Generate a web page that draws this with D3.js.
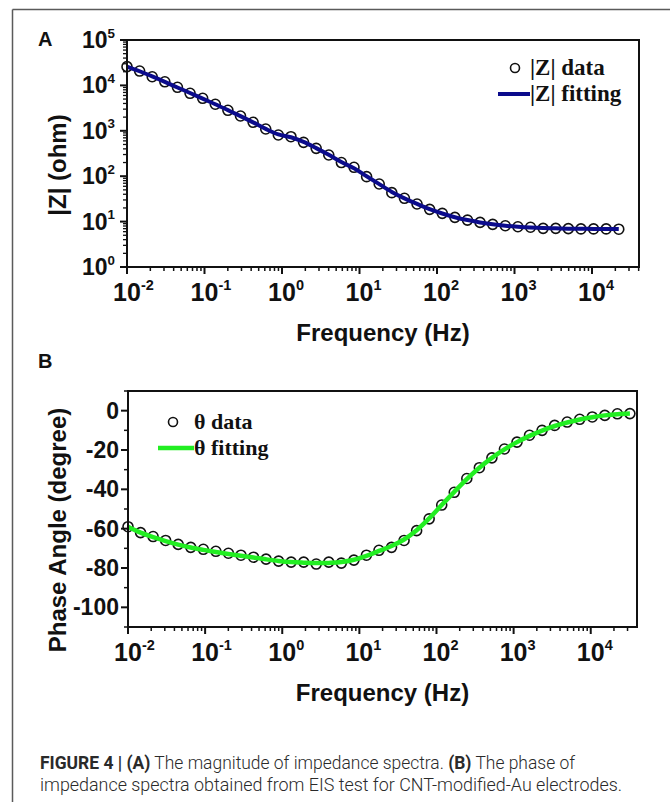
<!DOCTYPE html>
<html>
<head>
<meta charset="utf-8">
<script src="https://cdn.jsdelivr.net/npm/d3@7"></script>
<style>
  html, body { margin: 0; padding: 0; background: #fff; }
  svg { display: block; }
</style>
</head>
<body>
<svg id="fig" width="670" height="802"></svg>
<script>
// Measurement frequencies (Hz), shared by both panels
const freqs = [0.0100, 0.01455, 0.02115, 0.03077, 0.04477, 0.06512, 0.09473, 0.1378, 0.2004, 0.2914,
  0.4239, 0.6166, 0.8966, 1.304, 1.897, 2.759, 4.013, 5.837, 8.490, 12.35,
  17.96, 26.12, 37.99, 55.26, 80.37, 116.9, 170.0, 247.2, 359.6, 523.0,
  760.7, 1106, 1609, 2340, 3404, 4951, 7201, 10470, 15230, 22150, 32200];

// |Z| (ohm): measured and fitted
const zData = [25900, 20700, 15500, 12000, 9080, 6700, 5200, 3840, 2830, 2120,
  1540, 1095, 808, 742, 557, 411, 293, 200, 157, 97.7,
  67.3, 43.4, 32.6, 24.4, 18.6, 15.2, 12.4, 10.8, 9.6, 8.7,
  8.1, 7.7, 7.5, 7.1, 7.1, 7.0, 6.9, 6.9, 6.9, 6.8];
const zFit = [26000, 20500, 15800, 12000, 9000, 6800, 5100, 3850, 2850, 2100,
  1530, 1100, 830, 720, 570, 415, 295, 205, 150, 100,
  67, 45, 32.5, 24.5, 18.8, 15.1, 12.5, 10.8, 9.6, 8.7,
  8.1, 7.7, 7.4, 7.2, 7.1, 7.0, 6.95, 6.9, 6.9, 6.85];

// Phase angle (degree): measured and fitted
const phaseData = [-59, -62, -64, -66, -68, -69.5, -70.5, -71.5, -72.5, -73.5,
  -74.5, -75.5, -76.5, -77, -77, -78, -77, -77.5, -76, -73.5,
  -71, -69.5, -66, -61, -55, -48, -41.5, -34.5, -29, -24,
  -19.5, -16, -12.5, -10, -7.5, -5.8, -4.4, -3.2, -2.4, -1.6, -1.5];
const phaseFit = [-59, -62, -64.3, -66.3, -68.1, -69.6, -70.8, -71.9, -72.9, -73.8,
  -74.7, -75.6, -76.4, -77, -77.3, -77.5, -77.4, -77, -75.8, -73.8,
  -71.3, -68.8, -65.5, -60.8, -54.8, -48, -41.3, -34.8, -29, -24,
  -19.7, -16, -12.8, -10.1, -7.8, -6, -4.5, -3.3, -2.4, -1.8, -1.5];

// Axis ticks
const freqTicks = [1e-2, 1e-1, 1e0, 1e1, 1e2, 1e3, 1e4];
const zTicks = [1e0, 1e1, 1e2, 1e3, 1e4, 1e5];
const phaseTicks = [0, -20, -40, -60, -80, -100];
const phaseMinorTicks = [10, -10, -30, -50, -70, -90, -110];

const svg = d3.select("#fig");
const SANS = "'Liberation Sans', Arial, sans-serif";
const SERIF = "'Liberation Serif', 'Times New Roman', serif";

// Outer figure frame
svg.append("line").attr("x1", 12.5).attr("y1", 9.5).attr("x2", 670).attr("y2", 9.5)
  .attr("stroke", "#5a5a5a").attr("stroke-width", 1.5);
svg.append("line").attr("x1", 12.5).attr("y1", 9.5).attr("x2", 12.5).attr("y2", 802)
  .attr("stroke", "#5a5a5a").attr("stroke-width", 1.5);

// log minor ticks between decades
function logMinor(lo, hi) {
  const out = [];
  for (let e = lo; e < hi; e++) for (let m = 2; m <= 9; m++) out.push(m * Math.pow(10, e));
  return out;
}

function supLabel(g, x, y, exp, size, anchor) {
  // "10" with superscript exponent
  const base = g.append("text").attr("y", y).attr("font-family", SANS)
    .attr("font-weight", "bold").attr("font-size", size).attr("fill", "#111").text("10");
  const sup = g.append("text").attr("y", y - size * 0.45).attr("font-family", SANS)
    .attr("font-weight", "bold").attr("font-size", size * 0.58).attr("fill", "#111").text(exp);
  const bw = base.node().getComputedTextLength();
  const sw = sup.node().getComputedTextLength();
  if (anchor === "middle") {
    base.attr("x", x - bw / 2);
    sup.attr("x", x + bw / 2);
  } else { // end
    base.attr("x", x - bw - sw);
    sup.attr("x", x - sw);
  }
}

function drawBox(g, x, y) {
  const [x0, x1] = x.range(), [y0, y1] = y.range();
  g.append("rect").attr("x", x0).attr("y", y1).attr("width", x1 - x0).attr("height", y0 - y1)
    .attr("fill", "none").attr("stroke", "#111").attr("stroke-width", 2);
}

function freqAxis(g, x, yBase, labelY, titleY) {
  const ax = g.append("g").attr("transform", `translate(0,${yBase})`);
  ax.selectAll(".maj").data(freqTicks).join("line")
    .attr("x1", d => x(d)).attr("x2", d => x(d)).attr("y1", 0).attr("y2", 7)
    .attr("stroke", "#111").attr("stroke-width", 2);
  ax.selectAll(".min").data(logMinor(-2, 4).concat([2e4, 3e4, 4e4]).filter(d => x(d) <= x.range()[1]))
    .join("line")
    .attr("x1", d => x(d)).attr("x2", d => x(d)).attr("y1", 0).attr("y2", 4)
    .attr("stroke", "#111").attr("stroke-width", 1.5);
  freqTicks.forEach(t => supLabel(g, x(t), labelY, String(Math.round(Math.log10(t))), 25, "middle"));
  const xm = (x.range()[0] + x.range()[1]) / 2;
  g.append("text").attr("x", xm).attr("y", titleY).attr("text-anchor", "middle")
    .attr("font-family", SANS).attr("font-weight", "bold").attr("font-size", 24)
    .attr("fill", "#111").text("Frequency (Hz)");
}

// ---------- Panel A: |Z| ----------
const xA = d3.scaleLog().domain([0.01, 40400]).range([127, 639]);
const yA = d3.scaleLog().domain([1, 1e5]).range([267, 40]);
const gA = svg.append("g");

gA.append("text").attr("x", 38).attr("y", 46).attr("font-family", SANS).attr("font-weight", "bold")
  .attr("font-size", 20).attr("fill", "#111").text("A");

const yAx = gA.append("g");
yAx.selectAll(".maj").data(zTicks).join("line")
  .attr("x1", 127).attr("x2", 120).attr("y1", d => yA(d)).attr("y2", d => yA(d))
  .attr("stroke", "#111").attr("stroke-width", 2);
yAx.selectAll(".min").data(logMinor(0, 5)).join("line")
  .attr("x1", 127).attr("x2", 123).attr("y1", d => yA(d)).attr("y2", d => yA(d))
  .attr("stroke", "#111").attr("stroke-width", 1.3);
zTicks.forEach(t => supLabel(gA, 115, yA(t) + 8, String(Math.round(Math.log10(t))), 23, "end"));

gA.append("text").attr("transform", `translate(66,165) rotate(-90)`).attr("text-anchor", "middle")
  .attr("font-family", SANS).attr("font-weight", "bold").attr("font-size", 24).attr("fill", "#111")
  .text("|Z| (ohm)");

freqAxis(gA, xA, 267, 301, 341);

const lineA = d3.line().x((d, i) => xA(freqs[i])).y(d => yA(d)).curve(d3.curveCatmullRom.alpha(0.5));
gA.append("g").selectAll("circle").data(zData).join("circle")
  .attr("cx", (d, i) => xA(freqs[i])).attr("cy", d => yA(d)).attr("r", 5)
  .attr("fill", "none").attr("stroke", "#111").attr("stroke-width", 1.6);
gA.append("path").datum(zFit).attr("d", lineA).attr("fill", "none")
  .attr("stroke", "#0b0b8c").attr("stroke-width", 4);
drawBox(gA, xA, yA);

// legend A
gA.append("circle").attr("cx", 515).attr("cy", 68).attr("r", 4.5).attr("fill", "none")
  .attr("stroke", "#111").attr("stroke-width", 1.6);
gA.append("text").attr("x", 530).attr("y", 75).attr("font-family", SERIF).attr("font-weight", "bold")
  .attr("font-size", 23).attr("fill", "#111").text("|Z| data");
gA.append("line").attr("x1", 498).attr("x2", 530).attr("y1", 94).attr("y2", 94)
  .attr("stroke", "#0b0b8c").attr("stroke-width", 4);
gA.append("text").attr("x", 530).attr("y", 101).attr("font-family", SERIF).attr("font-weight", "bold")
  .attr("font-size", 23).attr("fill", "#111").text("|Z| fitting");

// ---------- Panel B: phase ----------
const xB = d3.scaleLog().domain([0.01, 39800]).range([128, 637]);
const yB = d3.scaleLinear().domain([-110, 10]).range([627, 391]);
const gB = svg.append("g");

gB.append("text").attr("x", 38).attr("y", 368).attr("font-family", SANS).attr("font-weight", "bold")
  .attr("font-size", 20).attr("fill", "#111").text("B");

const yBx = gB.append("g");
yBx.selectAll(".maj").data(phaseTicks).join("line")
  .attr("x1", 128).attr("x2", 121).attr("y1", d => yB(d)).attr("y2", d => yB(d))
  .attr("stroke", "#111").attr("stroke-width", 2);
yBx.selectAll(".min").data(phaseMinorTicks).join("line")
  .attr("x1", 128).attr("x2", 124).attr("y1", d => yB(d)).attr("y2", d => yB(d))
  .attr("stroke", "#111").attr("stroke-width", 1.5);
yBx.selectAll("text").data(phaseTicks).join("text")
  .attr("x", 119).attr("y", d => yB(d) + 8).attr("text-anchor", "end")
  .attr("font-family", SANS).attr("font-weight", "bold").attr("font-size", 23).attr("fill", "#111")
  .text(d => d);

gB.append("text").attr("transform", `translate(66,530) rotate(-90)`).attr("text-anchor", "middle")
  .attr("font-family", SANS).attr("font-weight", "bold").attr("font-size", 24).attr("fill", "#111")
  .text("Phase Angle (degree)");

freqAxis(gB, xB, 627, 661, 701);

const lineB = d3.line().x((d, i) => xB(freqs[i])).y(d => yB(d)).curve(d3.curveCatmullRom.alpha(0.5));
gB.append("g").selectAll("circle").data(phaseData).join("circle")
  .attr("cx", (d, i) => xB(freqs[i])).attr("cy", d => yB(d)).attr("r", 5)
  .attr("fill", "none").attr("stroke", "#111").attr("stroke-width", 1.6);
gB.append("path").datum(phaseFit).attr("d", lineB).attr("fill", "none")
  .attr("stroke", "#22ee22").attr("stroke-width", 4.5);
drawBox(gB, xB, yB);

// legend B
gB.append("circle").attr("cx", 173).attr("cy", 422).attr("r", 4.5).attr("fill", "none")
  .attr("stroke", "#111").attr("stroke-width", 1.6);
gB.append("text").attr("x", 194).attr("y", 429).attr("font-family", SERIF).attr("font-weight", "bold")
  .attr("font-size", 22).attr("fill", "#111").text("θ data");
gB.append("line").attr("x1", 158).attr("x2", 194).attr("y1", 448).attr("y2", 448)
  .attr("stroke", "#22ee22").attr("stroke-width", 4.5);
gB.append("text").attr("x", 194).attr("y", 455).attr("font-family", SERIF).attr("font-weight", "bold")
  .attr("font-size", 22).attr("fill", "#111").text("θ fitting");

// ---------- Caption ----------
const cap = svg.append("g").attr("font-family", "Roboto, 'Liberation Sans', Arial, sans-serif")
  .attr("font-size", 17.5).attr("fill", "#2a2a2a");
const c1 = cap.append("text").attr("x", 40).attr("y", 769)
  .attr("textLength", 535).attr("lengthAdjust", "spacingAndGlyphs");
c1.append("tspan").attr("font-weight", "bold").text("FIGURE 4 | (A)");
c1.append("tspan").attr("font-weight", 300).text(" The magnitude of impedance spectra. ");
c1.append("tspan").attr("font-weight", "bold").text("(B)");
c1.append("tspan").attr("font-weight", 300).text(" The phase of");
cap.append("text").attr("x", 40).attr("y", 791).attr("font-weight", 300)
  .attr("textLength", 582).attr("lengthAdjust", "spacingAndGlyphs")
  .text("impedance spectra obtained from EIS test for CNT-modified-Au electrodes.");
</script>
</body>
</html>
